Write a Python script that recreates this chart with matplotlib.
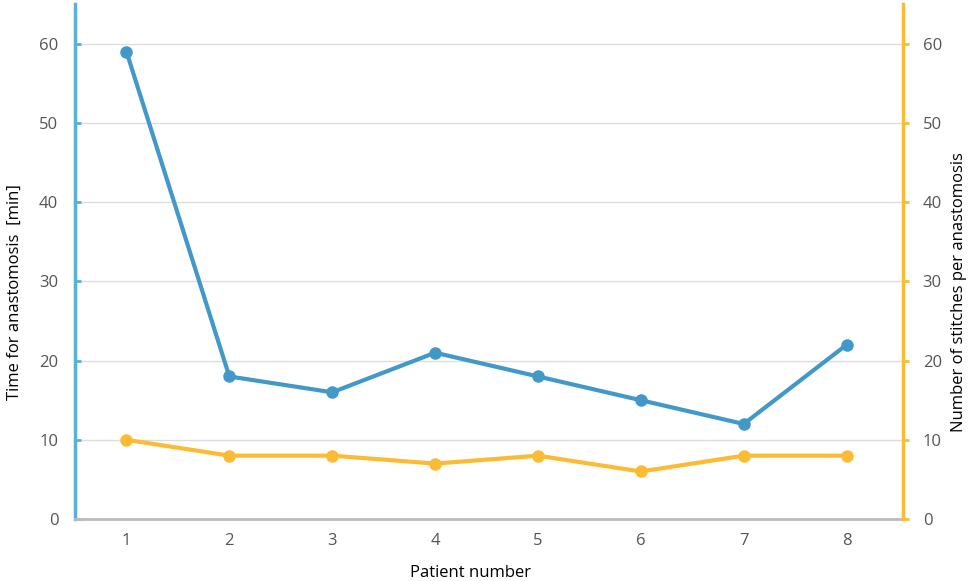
import matplotlib
matplotlib.use("Agg")
import matplotlib.pyplot as plt

# data
patients = [1, 2, 3, 4, 5, 6, 7, 8]
time_min = [59, 18, 16, 21, 18, 15, 12, 22]
stitches = [10, 8, 8, 7, 8, 6, 8, 8]
yticks = [0, 10, 20, 30, 40, 50, 60]

blue = "#4299c9"
blue_axis = "#5ab0d8"
yellow = "#fbbb35"
tick_grey = "#555555"

plt.rcParams["font.family"] = ["Open Sans", "DejaVu Sans"]

fig = plt.figure(figsize=(9.72, 5.81), dpi=100)
ax = fig.add_axes([0.0772, 0.1067, 0.852, 0.886])
ax2 = ax.twinx()

ax.set_xlim(0.5, 8.55)
ax.set_ylim(0, 65)
ax2.set_ylim(0, 65)

ax.set_yticks(yticks)
ax2.set_yticks(yticks)
ax.set_xticks(patients)
ax.grid(axis="y", color="#dddddd", linewidth=1)
ax.set_axisbelow(True)

ax.plot(patients, time_min, color=blue, linewidth=3, marker="o", markersize=8, zorder=3)
ax2.plot(patients, stitches, color=yellow, linewidth=3, marker="o", markersize=8, zorder=3)

for s in ["top", "right"]:
    ax.spines[s].set_visible(False)
for s in ["top", "left", "bottom"]:
    ax2.spines[s].set_visible(False)
ax.spines["left"].set_color(blue_axis)
ax.spines["left"].set_linewidth(2.5)
ax.spines["bottom"].set_color("#bbbbbb")
ax.spines["bottom"].set_linewidth(2)
ax2.spines["right"].set_color(yellow)
ax2.spines["right"].set_linewidth(2.5)

ax.tick_params(axis="y", direction="in", length=4, width=2, color=blue_axis,
               labelcolor=tick_grey, labelsize=12, pad=12)
ax.tick_params(axis="x", length=0, labelcolor=tick_grey, labelsize=12, pad=10)
ax2.tick_params(axis="y", direction="out", length=4, width=2, color=yellow,
                labelcolor=tick_grey, labelsize=12, pad=10)

ax.set_xlabel("Patient number", fontsize=12)
ax.set_ylabel("Time for anastomosis  [min]", fontsize=12)
ax2.set_ylabel("Number of stitches per anastomosis", fontsize=12)
ax.xaxis.set_label_coords(0.478, -0.09)
ax.yaxis.set_label_coords(-0.063, 0.44)
ax2.yaxis.set_label_coords(1.058, 0.44)

fig.savefig("out.png", dpi=100)
